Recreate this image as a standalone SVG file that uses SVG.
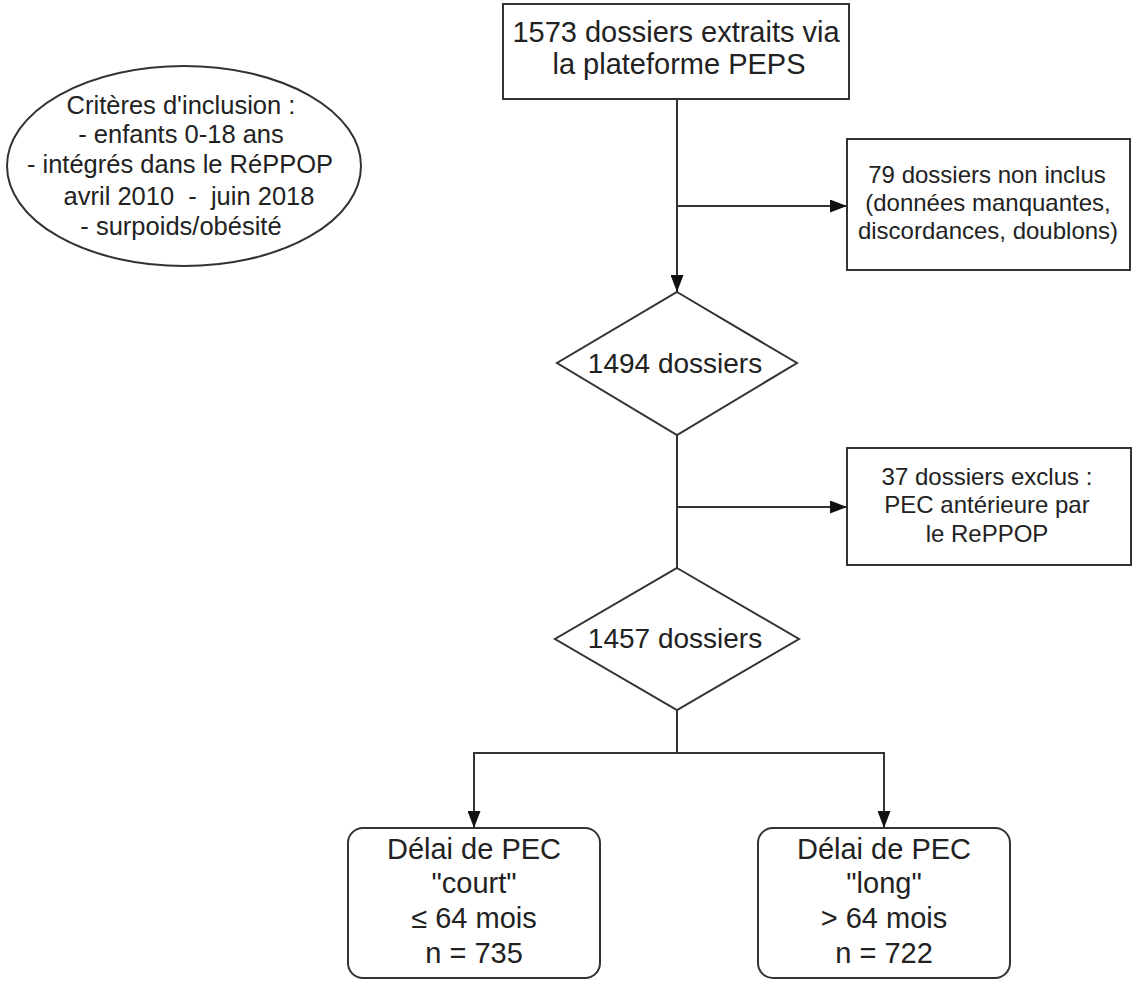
<svg xmlns="http://www.w3.org/2000/svg" width="1136" height="981" viewBox="0 0 1136 981">
  <style>
    .shape { fill: #ffffff; stroke: #333333; stroke-width: 2; }
    .line { fill: none; stroke: #333333; stroke-width: 2; }
    .t { font-family: "Liberation Sans", Arial, sans-serif; fill: #222222; text-anchor: middle; }
    .t24 { font-size: 24px; }
    .t25 { font-size: 25.5px; }
    .t28 { font-size: 28px; }
    .t29 { font-size: 29px; }
  </style>
  <defs>
    <marker id="arrow" markerUnits="userSpaceOnUse" markerWidth="17" markerHeight="13" refX="17" refY="6.5" orient="auto">
      <path d="M0,0 L17,6.5 L0,13 z" fill="#111111"/>
    </marker>
  </defs>
  <rect width="1136" height="981" fill="#ffffff"/>

  <g id="connectors">
    <line class="line" x1="677" y1="99" x2="677" y2="292" marker-end="url(#arrow)"/>
    <line class="line" x1="677" y1="206" x2="847" y2="206" marker-end="url(#arrow)"/>
    <line class="line" x1="677" y1="435" x2="677" y2="568"/>
    <line class="line" x1="677" y1="507" x2="847" y2="507" marker-end="url(#arrow)"/>
    <polyline class="line" points="677,710 677,753"/>
    <line class="line" x1="473" y1="753" x2="885" y2="753"/>
    <line class="line" x1="474" y1="753" x2="474" y2="828" marker-end="url(#arrow)"/>
    <line class="line" x1="884" y1="753" x2="884" y2="828" marker-end="url(#arrow)"/>
  </g>

  <g id="criteria">
    <ellipse class="shape" cx="184" cy="166" rx="177" ry="100"/>
    <text class="t t25" x="181" y="114">Critères d'inclusion :</text>
    <text class="t t25" x="181" y="143">- enfants 0-18 ans</text>
    <text class="t t25" x="180" y="173">- intégrés dans le RéPPOP</text>
    <text class="t t25" x="189" y="205" style="white-space:pre">avril 2010  -  juin 2018</text>
    <text class="t t25" x="181" y="235">- surpoids/obésité</text>
  </g>

  <g id="extracted">
    <rect class="shape" x="503" y="4" width="346" height="95"/>
    <text class="t t29" x="676" y="42">1573 dossiers extraits via</text>
    <text class="t t29" x="679" y="74">la plateforme PEPS</text>
  </g>

  <g id="not-included">
    <rect class="shape" x="847" y="139" width="283" height="131"/>
    <text class="t t24" x="987" y="183">79 dossiers non inclus</text>
    <text class="t t24" x="988" y="211">(données manquantes,</text>
    <text class="t t24" x="988" y="239">discordances, doublons)</text>
  </g>

  <g id="d1494">
    <polygon class="shape" points="677,292 797,363 677,435 557,363"/>
    <text class="t t28" x="675" y="373">1494 dossiers</text>
  </g>

  <g id="excluded">
    <rect class="shape" x="847" y="448" width="284" height="117"/>
    <text class="t t24" x="987" y="485">37 dossiers exclus :</text>
    <text class="t t24" x="987" y="513">PEC antérieure par</text>
    <text class="t t24" x="987" y="542">le RePPOP</text>
  </g>

  <g id="d1457">
    <polygon class="shape" points="677,568 799,639 677,710 555,639"/>
    <text class="t t28" x="675" y="648">1457 dossiers</text>
  </g>

  <g id="short">
    <rect class="shape" x="348" y="828" width="252" height="150" rx="15" ry="15"/>
    <text class="t t29" x="474" y="859">Délai de PEC</text>
    <text class="t t29" x="474" y="893">"court"</text>
    <text class="t t29" x="474" y="928">≤ 64 mois</text>
    <text class="t t29" x="474" y="963">n = 735</text>
  </g>

  <g id="long">
    <rect class="shape" x="758" y="828" width="252" height="150" rx="15" ry="15"/>
    <text class="t t29" x="884" y="859">Délai de PEC</text>
    <text class="t t29" x="884" y="893">"long"</text>
    <text class="t t29" x="884" y="928">&gt; 64 mois</text>
    <text class="t t29" x="884" y="963">n = 722</text>
  </g>
</svg>
